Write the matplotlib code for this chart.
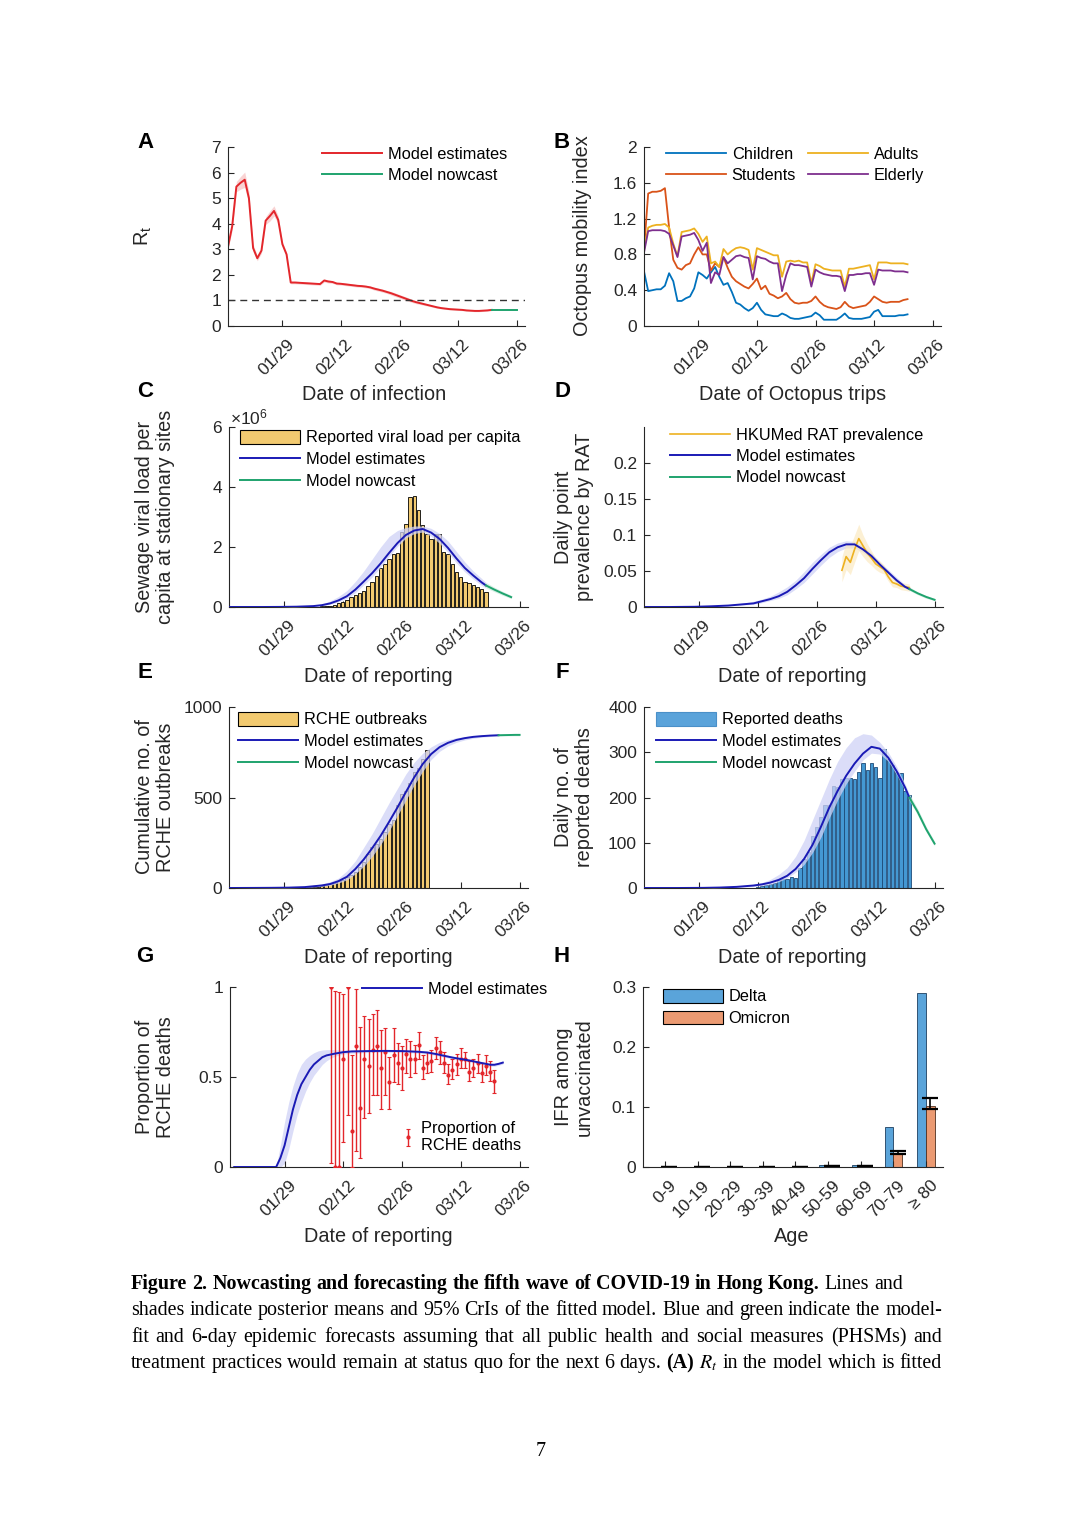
import matplotlib
matplotlib.use("Agg")
import matplotlib.pyplot as plt
import matplotlib.transforms as mtrans
from matplotlib.lines import Line2D
from matplotlib.patches import Patch
import numpy as np

plt.rcParams['font.family'] = ['Liberation Sans', 'DejaVu Sans']
plt.rcParams['mathtext.fontset'] = 'custom'
plt.rcParams['mathtext.rm'] = 'Liberation Sans'

# ---------------- DATA (day 0 = 01/29) ----------------
date_ticks = [0, 14, 28, 42, 56]
date_labels = ['01/29', '02/12', '02/26', '03/12', '03/26']

# Panel A: Rt
rt_days = list(range(-13, 51))
rt_est = [3.1, 3.9, 5.45, 5.6, 5.72, 5.0, 3.05, 2.65, 2.95, 4.12, 4.3, 4.5, 4.15,
          3.2, 2.8, 1.7, 1.7, 1.69, 1.68, 1.67, 1.66, 1.65, 1.64, 1.78, 1.74, 1.72, 1.66,
          1.65, 1.63, 1.61, 1.59, 1.57, 1.56, 1.54, 1.51, 1.46, 1.42, 1.38, 1.33, 1.28, 1.22,
          1.16, 1.10, 1.04, 0.98, 0.93, 0.89, 0.85, 0.81, 0.77, 0.73, 0.70, 0.68, 0.66, 0.65,
          0.64, 0.63, 0.61, 0.60, 0.59, 0.59, 0.60, 0.61, 0.63]
rt_ci = [0.10, 0.15, 0.20, 0.25, 0.30, 0.25, 0.15, 0.10, 0.10, 0.15, 0.20, 0.20, 0.15,
         0.10, 0.08, 0.05, 0.05, 0.05, 0.05, 0.05, 0.05, 0.05, 0.05, 0.06, 0.06, 0.05, 0.05,
         0.05, 0.05, 0.05, 0.05, 0.05, 0.05, 0.05, 0.05, 0.06, 0.06, 0.06, 0.06, 0.07, 0.07,
         0.07, 0.07, 0.07, 0.06, 0.06, 0.05, 0.05, 0.04, 0.04, 0.04, 0.03, 0.03, 0.03, 0.03,
         0.03, 0.03, 0.03, 0.03, 0.03, 0.03, 0.03, 0.03, 0.03]
rt_now_days = [50, 51, 52, 53, 54, 55, 56]
rt_now = [0.63, 0.63, 0.63, 0.63, 0.63, 0.63, 0.63]

# Panel B: Octopus mobility index
mob_days = list(range(-13, 51))
mob_children = [0.61, 0.39, 0.40, 0.41, 0.41, 0.45, 0.59, 0.50, 0.28, 0.28, 0.31, 0.33, 0.42,
                0.60, 0.57, 0.53, 0.60, 0.66, 0.55, 0.46, 0.48, 0.38, 0.26, 0.24, 0.20, 0.17, 0.20,
                0.26, 0.18, 0.13, 0.12, 0.11, 0.11, 0.14,
                0.12, 0.09, 0.08, 0.08, 0.09, 0.10, 0.11,
                0.15, 0.12, 0.07, 0.07, 0.07, 0.07, 0.10,
                0.14, 0.09, 0.08, 0.08, 0.08, 0.09, 0.10,
                0.16, 0.18, 0.11, 0.11, 0.11, 0.11, 0.12,
                0.12, 0.13]
mob_students = [0.85, 1.48, 1.50, 1.50, 1.51, 1.54, 1.10, 0.74, 0.65, 0.63, 0.68, 0.70, 0.80,
                0.88, 0.80, 0.80, 0.62, 0.70, 0.66, 0.77, 0.65, 0.55, 0.50, 0.47, 0.44, 0.42, 0.47,
                0.53, 0.41, 0.45, 0.36, 0.34, 0.31, 0.33,
                0.37, 0.30, 0.26, 0.25, 0.26, 0.26, 0.28,
                0.33, 0.27, 0.23, 0.21, 0.20, 0.19, 0.21,
                0.27, 0.22, 0.20, 0.21, 0.22, 0.23, 0.27,
                0.33, 0.30, 0.27, 0.26, 0.27, 0.27, 0.27,
                0.29, 0.30]
mob_adults = [0.85, 1.10, 1.12, 1.13, 1.13, 1.14, 1.10, 0.92, 0.78, 1.05, 1.06, 1.07, 1.09,
              1.03, 0.94, 1.00, 0.70, 0.72, 0.66, 0.86, 0.80, 0.84, 0.87, 0.88, 0.87, 0.85, 0.63,
              0.87, 0.85, 0.83, 0.81, 0.79, 0.79, 0.55,
              0.72, 0.73, 0.72, 0.73, 0.71, 0.71, 0.48,
              0.69, 0.67, 0.64, 0.63, 0.62, 0.62, 0.62,
              0.44, 0.64, 0.64, 0.65, 0.66, 0.67, 0.68,
              0.52, 0.71, 0.71, 0.71, 0.70, 0.70, 0.70,
              0.70, 0.69]
mob_elderly = [0.82, 1.06, 1.07, 1.07, 1.07, 1.06, 1.03, 0.90, 0.77, 1.00, 1.01, 1.02, 1.04,
               0.96, 0.84, 0.93, 0.48, 0.60, 0.57, 0.77, 0.70, 0.74, 0.78, 0.79, 0.77, 0.76, 0.52,
               0.78, 0.76, 0.75, 0.72, 0.70, 0.70, 0.39,
               0.57, 0.70, 0.68, 0.68, 0.67, 0.66, 0.44,
               0.63, 0.60, 0.58, 0.57, 0.56, 0.56, 0.55,
               0.39, 0.57, 0.57, 0.58, 0.58, 0.59, 0.59,
               0.46, 0.63, 0.62, 0.62, 0.62, 0.61, 0.61,
               0.61, 0.60]

# Panel C: sewage viral load (x 10^6)
vl_days = list(range(9, 49))
vl_obs = [0.02, 0.03, 0.05, 0.08, 0.12, 0.17, 0.25, 0.33, 0.40, 0.48, 0.55, 0.70, 0.85, 1.05,
          1.30, 1.44, 1.60, 1.78, 1.81, 2.50, 2.78, 3.67, 3.69, 3.22, 2.72, 2.44, 2.28, 2.44,
          2.45, 1.83, 1.78, 1.44, 1.17, 1.00, 0.83, 0.80, 0.72, 0.67, 0.60, 0.50]
vl_m_days = [-13, -9, -5, -1, 3, 7, 9, 11, 13, 15, 17, 19, 21, 23, 25, 27, 29, 31, 33, 35, 37, 39, 41, 43, 45, 47, 48]
vl_m_est = [0, 0, 0, 0.003, 0.01, 0.03, 0.06, 0.12, 0.22, 0.36, 0.58, 0.85, 1.13, 1.45, 1.80, 2.13,
            2.40, 2.55, 2.60, 2.48, 2.27, 1.97, 1.62, 1.30, 1.05, 0.82, 0.72]
vl_m_hi = [0, 0, 0, 0.005, 0.02, 0.05, 0.10, 0.20, 0.35, 0.55, 0.85, 1.20, 1.60, 2.00, 2.35, 2.55,
           2.65, 2.70, 2.70, 2.62, 2.45, 2.20, 1.85, 1.50, 1.20, 0.95, 0.82]
vl_m_lo = [0, 0, 0, 0.002, 0.007, 0.02, 0.045, 0.09, 0.17, 0.29, 0.48, 0.74, 1.00, 1.33, 1.68, 2.02,
           2.30, 2.45, 2.50, 2.36, 2.12, 1.82, 1.47, 1.17, 0.93, 0.72, 0.64]
vl_n_days = [48, 50, 52, 54]
vl_n_est = [0.72, 0.58, 0.45, 0.33]
vl_n_hi = [0.82, 0.66, 0.52, 0.39]
vl_n_lo = [0.64, 0.51, 0.39, 0.28]

# Panel D: RAT prevalence
rat_days = list(range(34, 51))
rat_obs = [0.051, 0.070, 0.062, 0.080, 0.095, 0.085, 0.075, 0.068, 0.060, 0.056, 0.052, 0.042,
           0.034, 0.032, 0.029, 0.028, 0.027]
rat_hi = [0.070, 0.090, 0.085, 0.100, 0.115, 0.100, 0.088, 0.078, 0.068, 0.064, 0.058, 0.048,
          0.040, 0.037, 0.034, 0.033, 0.032]
rat_lo = [0.035, 0.052, 0.045, 0.062, 0.078, 0.070, 0.063, 0.058, 0.052, 0.048, 0.046, 0.036,
          0.028, 0.027, 0.024, 0.023, 0.022]
prev_m_days = [-13, -7, -1, 3, 7, 11, 13, 15, 17, 19, 21, 23, 25, 27, 29, 31, 33, 35, 37, 39, 41, 43, 45, 47, 49, 50]
prev_m_est = [0, 0, 0.0003, 0.001, 0.002, 0.004, 0.005, 0.008, 0.011, 0.015, 0.021, 0.030, 0.040,
              0.053, 0.065, 0.076, 0.083, 0.087, 0.087, 0.080, 0.071, 0.059, 0.048, 0.037, 0.028, 0.025]
prev_m_lo = [0, 0, 0.0002, 0.0007, 0.0015, 0.003, 0.004, 0.006, 0.009, 0.012, 0.017, 0.025, 0.034,
             0.046, 0.058, 0.069, 0.077, 0.082, 0.082, 0.076, 0.067, 0.055, 0.044, 0.034, 0.026, 0.023]
prev_m_hi = [0, 0, 0.0005, 0.0015, 0.003, 0.006, 0.008, 0.011, 0.015, 0.021, 0.028, 0.037, 0.049,
             0.062, 0.073, 0.083, 0.089, 0.092, 0.091, 0.085, 0.075, 0.063, 0.052, 0.041, 0.031, 0.028]
prev_n_days = [50, 52, 54, 56]
prev_n_est = [0.025, 0.019, 0.014, 0.010]
prev_n_lo = [0.023, 0.017, 0.012, 0.009]
prev_n_hi = [0.028, 0.021, 0.016, 0.012]

# Panel E: cumulative RCHE outbreaks
ob_days = list(range(-3, 35))
ob_obs = [1, 1, 1, 1, 1, 1, 1, 1, 2, 3, 5, 7, 10, 15, 20, 29, 37, 46, 61, 70, 88, 116, 144, 190,
          227, 241, 273, 309, 355, 378, 457, 521, 536, 580, 641, 665, 715, 760]
ob_m_days = [-13, -7, -3, 1, 5, 9, 11, 13, 15, 17, 19, 21, 23, 25, 27, 29, 31, 33, 35, 37, 39, 41, 43, 45, 47, 49, 51]
ob_m_est = [0, 0.5, 1, 2, 5, 14, 22, 38, 62, 105, 158, 220, 288, 365, 445, 530, 612, 685, 740, 778,
            802, 818, 828, 835, 839, 842, 844]
ob_m_hi = [0, 1, 2, 3, 8, 22, 35, 55, 95, 150, 225, 300, 385, 470, 550, 630, 695, 745, 780, 805,
           820, 830, 837, 842, 845, 847, 848]
ob_m_lo = [0, 0, 0.5, 1, 3, 9, 15, 28, 45, 78, 120, 175, 240, 315, 400, 485, 570, 645, 710, 755,
           785, 805, 818, 827, 833, 837, 840]
ob_n_days = [51, 53, 55, 56]
ob_n_est = [844, 845, 846, 846]
ob_n_lo = [840, 841, 841, 841]
ob_n_hi = [848, 849, 850, 850]

# Panel F: daily reported deaths
dth_days = list(range(14, 51))
dth_obs = [3, 4, 6, 8, 10, 18, 20, 20, 24, 23, 44, 63, 80, 116, 135, 158, 183, 183, 225, 223,
           240, 244, 242, 240, 256, 276, 260, 277, 267, 244, 307, 286, 271, 256, 254, 214, 206]
dth_m_days = [-13, -5, 1, 5, 9, 11, 13, 15, 17, 19, 21, 23, 25, 27, 29, 31, 33, 35, 37, 39, 41, 43, 45, 47, 49, 50]
dth_m_est = [0, 0, 0.3, 1, 2.5, 4, 5.5, 8, 12, 18, 27, 42, 64, 95, 135, 178, 215, 248, 275, 297,
             312, 308, 288, 258, 222, 200]
dth_m_hi = [0, 0, 0.5, 1.5, 4, 6, 8, 12, 19, 30, 45, 70, 105, 150, 195, 240, 280, 310, 332, 341,
            338, 322, 300, 268, 230, 208]
dth_m_lo = [0, 0, 0.2, 0.6, 1.5, 2.5, 3.5, 5, 8, 14, 22, 35, 52, 78, 112, 155, 195, 230, 258, 283,
            298, 296, 280, 250, 215, 193]
dth_n_days = [50, 52, 54, 56]
dth_n_est = [200, 168, 130, 98]
dth_n_hi = [208, 175, 136, 103]
dth_n_lo = [193, 161, 124, 93]

# Panel G: proportion of RCHE deaths
prop_days = list(range(11, 51))
prop_obs = [1.0, 0.0, 0.0, 0.60, 1.0, 0.20, 0.67, 0.33, 0.60, 0.56, 0.65, 0.67, 0.55, 0.64, 0.47,
            0.62, 0.58, 0.55, 0.63, 0.60, 0.60, 0.68, 0.55, 0.58, 0.59, 0.66, 0.64, 0.58, 0.51,
            0.54, 0.57, 0.60, 0.60, 0.53, 0.55, 0.58, 0.52, 0.56, 0.53, 0.48]
prop_lo = [0.02, 0.0, 0.0, 0.14, 0.29, 0.0, 0.09, 0.05, 0.27, 0.30, 0.40, 0.40, 0.32, 0.40, 0.32,
           0.47, 0.46, 0.43, 0.52, 0.50, 0.52, 0.60, 0.49, 0.52, 0.53, 0.60, 0.57, 0.52, 0.46,
           0.49, 0.51, 0.55, 0.55, 0.48, 0.50, 0.52, 0.47, 0.51, 0.48, 0.41]
prop_hi = [1.0, 0.98, 0.97, 0.96, 1.0, 0.62, 0.99, 0.78, 0.84, 0.82, 0.85, 0.87, 0.76, 0.77, 0.61,
           0.77, 0.69, 0.67, 0.71, 0.70, 0.68, 0.75, 0.62, 0.64, 0.65, 0.72, 0.70, 0.64, 0.57,
           0.60, 0.63, 0.66, 0.64, 0.59, 0.60, 0.63, 0.58, 0.62, 0.59, 0.54]
prop_m_days = [-12, -2, -1, 0, 1, 2, 3, 4, 5, 6, 7, 8, 9, 10, 11, 12, 14, 16, 20, 24, 28, 32, 34,
               36, 38, 40, 42, 44, 46, 48, 49, 50, 51, 52]
prop_m_est = [0, 0, 0.05, 0.12, 0.22, 0.32, 0.40, 0.46, 0.50, 0.54, 0.57, 0.59, 0.61, 0.62, 0.625,
              0.63, 0.638, 0.642, 0.644, 0.645, 0.644, 0.64, 0.636, 0.628, 0.618, 0.608, 0.60,
              0.592, 0.582, 0.573, 0.568, 0.568, 0.573, 0.58]
prop_m_lo = [0, 0, 0, 0.02, 0.10, 0.20, 0.29, 0.36, 0.42, 0.47, 0.51, 0.54, 0.57, 0.59, 0.605,
             0.615, 0.628, 0.632, 0.636, 0.637, 0.636, 0.632, 0.628, 0.62, 0.61, 0.60, 0.592,
             0.584, 0.574, 0.565, 0.56, 0.56, 0.565, 0.572]
prop_m_hi = [0, 0, 0.12, 0.25, 0.36, 0.45, 0.52, 0.57, 0.60, 0.62, 0.635, 0.645, 0.65, 0.652,
             0.652, 0.652, 0.65, 0.652, 0.652, 0.653, 0.652, 0.648, 0.644, 0.636, 0.626, 0.616,
             0.608, 0.60, 0.59, 0.581, 0.576, 0.576, 0.581, 0.588]

# Panel H: IFR among unvaccinated
age_groups = ['0-9', '10-19', '20-29', '30-39', '40-49', '50-59', '60-69', '70-79', '≥ 80']
ifr_delta = [0.0001, 0.0001, 0.0002, 0.0003, 0.0005, 0.003, 0.004, 0.067, 0.290]
ifr_omicron = [0.00005, 0.00005, 0.0001, 0.0002, 0.0004, 0.0015, 0.0015, 0.023, 0.102]
ifr_om_lo = [0.0, 0.0, 0.0, 0.0, 0.0002, 0.001, 0.001, 0.021, 0.097]
ifr_om_hi = [0.0002, 0.0002, 0.0003, 0.0005, 0.0007, 0.002, 0.002, 0.026, 0.115]

# ---------------- STYLE ----------------
W, H = 1080, 1528
fig = plt.figure(figsize=(W / 100, H / 100), dpi=100)
fig.patch.set_facecolor('white')

TXT = '#262626'
C_RED = '#e3262b'
C_GREEN = '#1fa36e'
C_BLUE = '#1a1ab5'
C_BAND = '#cfd2f6'
C_BAR_Y = '#f2ca70'
C_BAR_B = '#4498d3'
TICK_FS = 12.5
LAB_FS = 14.3
LEG_FS = 11.8


def add_ax(l, t, r, b):
    ax = fig.add_axes([l / W, 1 - b / H, (r - l) / W, (b - t) / H])
    for s in ['top', 'right']:
        ax.spines[s].set_visible(False)
    for s in ['left', 'bottom']:
        ax.spines[s].set_color(TXT)
        ax.spines[s].set_linewidth(0.8)
    ax.tick_params(direction='in', length=4, width=0.8, colors=TXT, labelsize=TICK_FS, pad=5)
    ax.set_facecolor('none')
    return ax


def date_axis(ax):
    ax.set_xlim(-13, 58)
    ax.set_xticks(date_ticks)
    ax.set_xticklabels(date_labels)
    rot_labels(ax)


def rot_labels(ax, dx=4, dy=-4):
    off = mtrans.ScaledTranslation(dx / 100, dy / 100, fig.dpi_scale_trans)
    for lab in ax.get_xticklabels():
        lab.set_rotation(45)
        lab.set_ha('right')
        lab.set_va('top')
        lab.set_rotation_mode('anchor')
        lab.set_transform(lab.get_transform() + off)


def leg(ax, handles, labels, x, y, **kw):
    opts = dict(loc='upper left', bbox_to_anchor=(x / W, 1 - y / H), bbox_transform=fig.transFigure,
                frameon=False, fontsize=LEG_FS, borderpad=0, borderaxespad=0,
                handlelength=3.66, handletextpad=0.35, labelspacing=0.38)
    opts.update(kw)
    lg = ax.legend(handles, labels, **opts)
    for t in lg.get_texts():
        t.set_color('black')
    return lg


def ftext(x, y, s, **kw):
    d = dict(ha='center', va='center', color=TXT, fontsize=LAB_FS)
    d.update(kw)
    return fig.text(x / W, 1 - y / H, s, **d)


def ylab(x, y, s):
    ftext(x, y, s, rotation=90, linespacing=1.15, multialignment='center')


def bar_patch(fc, ec='black'):
    return Patch(facecolor=fc, edgecolor=ec, linewidth=0.8)


# ---------------- Panel A ----------------
axA = add_ax(228, 147, 525, 326)
lo = [e - c for e, c in zip(rt_est, rt_ci)]
hi = [e + c for e, c in zip(rt_est, rt_ci)]
axA.fill_between(rt_days, lo, hi, color='#f8c9c9', lw=0, alpha=0.8)
axA.plot(rt_days, rt_est, color=C_RED, lw=1.4)
axA.plot(rt_now_days, rt_now, color=C_GREEN, lw=1.4)
axA.axhline(1, color='#333333', lw=1.0, ls=(0, (5, 3.5)))
axA.set_ylim(0, 7)
axA.set_yticks(range(0, 8))
date_axis(axA)
leg(axA, [Line2D([], [], color=C_RED, lw=1.4), Line2D([], [], color=C_GREEN, lw=1.4)],
    ['Model estimates', 'Model nowcast'], 322, 147)
ylab(143, 236, r'R$_\mathregular{t}$')
ftext(374, 395, 'Date of infection')

# ---------------- Panel B ----------------
axB = add_ax(644, 147, 941, 326)
cB = {'Children': '#0072BD', 'Students': '#D95319', 'Adults': '#EDB120', 'Elderly': '#7E2F8E'}
axB.plot(mob_days, mob_children, color=cB['Children'], lw=1.3)
axB.plot(mob_days, mob_students, color=cB['Students'], lw=1.3)
axB.plot(mob_days, mob_adults, color=cB['Adults'], lw=1.3)
axB.plot(mob_days, mob_elderly, color=cB['Elderly'], lw=1.3)
axB.set_ylim(0, 2)
axB.set_yticks([0, 0.4, 0.8, 1.2, 1.6, 2])
axB.set_yticklabels(['0', '0.4', '0.8', '1.2', '1.6', '2'])
date_axis(axB)
leg(axB, [Line2D([], [], color=cB[k], lw=1.3) for k in ['Children', 'Students', 'Adults', 'Elderly']],
    ['Children', 'Students', 'Adults', 'Elderly'], 666, 147, ncol=2, columnspacing=0.75)
ylab(583, 236, 'Octopus mobility index')
ftext(793, 395, 'Date of Octopus trips')

# ---------------- Panel C ----------------
axC = add_ax(229, 427, 528, 607)
axC.bar(vl_days, vl_obs, width=0.8, color=C_BAR_Y, edgecolor='black', linewidth=0.6, zorder=2)
axC.fill_between(vl_m_days, vl_m_lo, vl_m_hi, color=C_BAND, lw=0, alpha=0.75, zorder=3)
axC.fill_between(vl_n_days, vl_n_lo, vl_n_hi, color='#c9eadb', lw=0, alpha=0.75, zorder=3)
axC.plot(vl_m_days, vl_m_est, color=C_BLUE, lw=1.4, zorder=4)
axC.plot(vl_n_days, vl_n_est, color=C_GREEN, lw=1.4, zorder=4)
axC.set_ylim(0, 6)
axC.set_yticks([0, 2, 4, 6])
date_axis(axC)
leg(axC, [bar_patch(C_BAR_Y), Line2D([], [], color=C_BLUE, lw=1.4), Line2D([], [], color=C_GREEN, lw=1.4)],
    ['Reported viral load per capita', 'Model estimates', 'Model nowcast'], 240, 430, handleheight=0.9)
ftext(230, 417, r'$\times\mathregular{10^{6}}$', fontsize=TICK_FS, ha='left')
ylab(155, 517, 'Sewage viral load per\ncapita at stationary sites')
ftext(378, 676, 'Date of reporting')

# ---------------- Panel D ----------------
axD = add_ax(644, 427, 943, 607)
axD.fill_between(prev_m_days, prev_m_lo, prev_m_hi, color=C_BAND, lw=0, alpha=0.75)
axD.fill_between(prev_n_days, prev_n_lo, prev_n_hi, color='#c9eadb', lw=0, alpha=0.75)
axD.fill_between(rat_days, rat_lo, rat_hi, color='#fbe6b8', lw=0, alpha=0.6)
axD.plot(rat_days, rat_obs, color='#EDB120', lw=1.2)
axD.plot(prev_m_days, prev_m_est, color=C_BLUE, lw=1.4)
axD.plot(prev_n_days, prev_n_est, color=C_GREEN, lw=1.4)
axD.set_ylim(0, 0.25)
axD.set_yticks([0, 0.05, 0.1, 0.15, 0.2])
axD.set_yticklabels(['0', '0.05', '0.1', '0.15', '0.2'])
date_axis(axD)
leg(axD, [Line2D([], [], color='#EDB120', lw=1.2), Line2D([], [], color=C_BLUE, lw=1.4),
          Line2D([], [], color=C_GREEN, lw=1.4)],
    ['HKUMed RAT prevalence', 'Model estimates', 'Model nowcast'], 670, 428)
ylab(574, 517, 'Daily point\nprevalence by RAT')
ftext(792, 676, 'Date of reporting')

# ---------------- Panel E ----------------
axE = add_ax(229, 707, 528, 888)
axE.bar(ob_days, ob_obs, width=0.8, color=C_BAR_Y, edgecolor='black', linewidth=0.6, zorder=2)
axE.fill_between(ob_m_days, ob_m_lo, ob_m_hi, color=C_BAND, lw=0, alpha=0.75, zorder=3)
axE.fill_between(ob_n_days, ob_n_lo, ob_n_hi, color='#c9eadb', lw=0, alpha=0.75, zorder=3)
axE.plot(ob_m_days, ob_m_est, color=C_BLUE, lw=1.4, zorder=4)
axE.plot(ob_n_days, ob_n_est, color=C_GREEN, lw=1.4, zorder=4)
axE.set_ylim(0, 1000)
axE.set_yticks([0, 500, 1000])
date_axis(axE)
leg(axE, [bar_patch(C_BAR_Y), Line2D([], [], color=C_BLUE, lw=1.4), Line2D([], [], color=C_GREEN, lw=1.4)],
    ['RCHE outbreaks', 'Model estimates', 'Model nowcast'], 238, 712, handleheight=0.9)
ylab(155, 797, 'Cumulative no. of\nRCHE outbreaks')
ftext(378, 957, 'Date of reporting')

# ---------------- Panel F ----------------
axF = add_ax(644, 707, 943, 888)
axF.bar(dth_days, dth_obs, width=0.8, color=C_BAR_B, edgecolor='#1d4a78', linewidth=0.6, zorder=2)
axF.fill_between(dth_m_days, dth_m_lo, dth_m_hi, color=C_BAND, lw=0, alpha=0.75, zorder=3)
axF.fill_between(dth_n_days, dth_n_lo, dth_n_hi, color='#c9eadb', lw=0, alpha=0.75, zorder=3)
axF.plot(dth_m_days, dth_m_est, color=C_BLUE, lw=1.4, zorder=4)
axF.plot(dth_n_days, dth_n_est, color=C_GREEN, lw=1.4, zorder=4)
axF.set_ylim(0, 400)
axF.set_yticks([0, 100, 200, 300, 400])
date_axis(axF)
leg(axF, [bar_patch('#5aa3da', '#4a90c8'), Line2D([], [], color=C_BLUE, lw=1.4), Line2D([], [], color=C_GREEN, lw=1.4)],
    ['Reported deaths', 'Model estimates', 'Model nowcast'], 656, 712, handleheight=0.9)
ylab(574, 797, 'Daily no. of\nreported deaths')
ftext(792, 957, 'Date of reporting')

# ---------------- Panel G ----------------
axG = add_ax(230, 987, 528, 1167)
axG.fill_between(prop_m_days, prop_m_lo, prop_m_hi, color=C_BAND, lw=0, alpha=0.75, zorder=1)
eb = axG.errorbar(prop_days, prop_obs,
                  yerr=[[o - l for o, l in zip(prop_obs, prop_lo)], [h - o for o, h in zip(prop_obs, prop_hi)]],
                  fmt='.', color=C_RED, ms=4, elinewidth=1.0, capsize=1.2, capthick=0.8, zorder=3)
mline, = axG.plot(prop_m_days, prop_m_est, color=C_BLUE, lw=1.4, zorder=4)
axG.set_ylim(0, 1)
axG.set_yticks([0, 0.5, 1])
axG.set_yticklabels(['0', '0.5', '1'])
date_axis(axG)
lgG1 = leg(axG, [Line2D([], [], color=C_BLUE, lw=1.4)], ['Model estimates'], 362, 982)
axG.add_artist(lgG1)
leg(axG, [eb], ['Proportion of\nRCHE deaths'], 401, 1121, handlelength=0.8, handletextpad=0.45)
ylab(155, 1077, 'Proportion of\nRCHE deaths')
ftext(378, 1237, 'Date of reporting')

# ---------------- Panel H ----------------
axH = add_ax(643, 987, 943, 1167)
xpos = np.arange(1, len(age_groups) + 1)
bw = 0.27
axH.bar(xpos - bw / 2, ifr_delta, width=bw, color='#5aa4da', edgecolor='#1d3f60', linewidth=0.6)
axH.bar(xpos + bw / 2, ifr_omicron, width=bw, color='#eb9a72', edgecolor='#503020', linewidth=0.6)
axH.errorbar(xpos + bw / 2, ifr_omicron,
             yerr=[[o - l for o, l in zip(ifr_omicron, ifr_om_lo)], [h - o for o, h in zip(ifr_omicron, ifr_om_hi)]],
             fmt='none', ecolor='black', elinewidth=1.2, capsize=5.5, capthick=1.6)
axH.set_xlim(0.33, 9.52)
axH.set_ylim(0, 0.3)
axH.set_yticks([0, 0.1, 0.2, 0.3])
axH.set_yticklabels(['0', '0.1', '0.2', '0.3'])
axH.set_xticks(xpos)
axH.set_xticklabels(age_groups)
rot_labels(axH)
leg(axH, [bar_patch('#5aa4da'), bar_patch('#eb9a72')], ['Delta', 'Omicron'], 663, 989, handleheight=0.9)
ylab(574, 1077, 'IFR among\nunvaccinated')
ftext(792, 1237, 'Age')

# ---------------- Panel letters ----------------
for letter, (x, y) in {'A': (145, 143), 'B': (562, 143), 'C': (145, 391), 'D': (562, 391),
                       'E': (145, 673), 'F': (562, 673), 'G': (145, 956), 'H': (562, 956)}.items():
    ftext(x, y, letter, fontsize=16, fontweight='bold', color='black')

# ---------------- Caption ----------------
CAP_FS = 14.45
CAP_FONT = 'Liberation Serif'
renderer = fig.canvas.get_renderer()
ident = mtrans.IdentityTransform()


def cap_line(words, ybase, x0=131, x1=None):
    arts = []
    for w, kind in words:
        kw = dict(fontsize=CAP_FS, family=CAP_FONT, color='black', va='baseline', ha='left',
                  transform=ident)
        if kind == 'b':
            kw['fontweight'] = 'bold'
        if kind == 'm':
            kw['math_fontfamily'] = 'stix'
        arts.append(fig.text(0, 0, w, **kw))
    widths = [a.get_window_extent(renderer).width for a in arts]
    space = CAP_FS * 100 / 72 * 0.25
    if x1 is not None and len(arts) > 1:
        space = (x1 - x0 - sum(widths)) / (len(arts) - 1)
    x = x0
    for a, wdt in zip(arts, widths):
        a.set_position((x, H - ybase))
        x += wdt + space


bold1 = 'Figure 2. Nowcasting and forecasting the fifth wave of COVID-19 in Hong Kong.'.split()
line1 = [(w, 'b') for w in bold1] + [('Lines', 'n'), ('and', 'n')]
line2 = [(w, 'n') for w in 'shades indicate posterior means and 95% CrIs of the fitted model. Blue and green indicate the model-'.split()]
line3 = [(w, 'n') for w in 'fit and 6-day epidemic forecasts assuming that all public health and social measures (PHSMs) and'.split()]
line4 = ([(w, 'n') for w in 'treatment practices would remain at status quo for the next 6 days.'.split()]
         + [('(A)', 'b'), (r'$R_t$', 'm')]
         + [(w, 'n') for w in 'in the model which is fitted'.split()])
cap_line(line1, 1289)
cap_line(line2, 1315, x1=942)
cap_line(line3, 1342, x1=942)
cap_line(line4, 1368, x1=942)
fig.text(541, H - 1451, '7', transform=ident, fontsize=CAP_FS, family=CAP_FONT, ha='center', va='center')

fig.savefig('out.png', dpi=100)
